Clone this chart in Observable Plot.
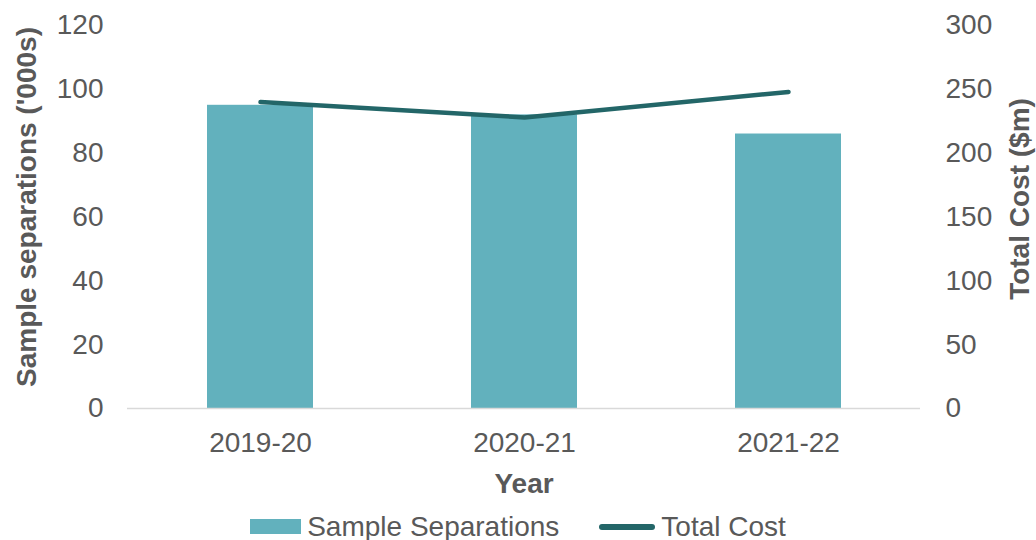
<!DOCTYPE html>
<html>
<head>
<meta charset="utf-8">
<script src="https://cdn.jsdelivr.net/npm/d3@7"></script>
<script src="https://cdn.jsdelivr.net/npm/@observablehq/plot@0.6"></script>
<style>
  html, body { margin: 0; padding: 0; background: #fff; }
  #chart { width: 1036px; font-family: "Liberation Sans", Arial, sans-serif; }
  .legend { display: flex; align-items: center; justify-content: center; height: 35px;
            font-size: 28px; color: #595959; padding-top: 4px; }
  .legend .item { display: flex; align-items: center; }
  .sw-bar { width: 51px; height: 15px; background: #62b1bd; margin-right: 6px; }
  .sw-line { width: 56px; height: 6px; background: #236668; border-radius: 3px; margin-right: 6px; }
</style>
</head>
<body>
<div id="chart"></div>
<script>
// Financial years on the x axis
const years = ["2019-20", "2020-21", "2021-22"];
// Sample separations, thousands (left axis)
const separations = [95, 92, 86];
// Total cost, $ millions (right axis)
const totalCost = [240, 228, 248];
// Axis ticks
const leftTicks = [0, 20, 40, 60, 80, 100, 120];
const rightTicks = [0, 50, 100, 150, 200, 250, 300];

const barColor = "#62b1bd";
const lineColor = "#236668";
const textColor = "#595959";

// The cost series shares the plot's y scale through a linear map 0–300 → 0–120
const costToLeft = d3.scaleLinear([0, 300], [0, 120]);

const bars = years.map((year, i) => ({year, value: separations[i]}));
const costs = years.map((year, i) => ({year, value: costToLeft(totalCost[i])}));

const plot = Plot.plot({
  width: 1036,
  height: 505,
  marginTop: 25,
  marginBottom: 97,
  marginLeft: 127,
  marginRight: 116,
  style: {fontFamily: "'Liberation Sans', Arial, sans-serif", fontSize: "28px", color: textColor},
  x: {domain: years, paddingInner: 0.6, paddingOuter: 0.3, label: null},
  y: {domain: [0, 120], label: null},
  marks: [
    Plot.barY(bars, {x: "year", y: "value", fill: barColor}),
    Plot.ruleY([0], {stroke: "#d9d9d9", strokeWidth: 1.5}),
    Plot.line(costs, {x: "year", y: "value", stroke: lineColor, strokeWidth: 4.5,
                      strokeLinecap: "round", strokeLinejoin: "round"}),
    Plot.axisX({tickSize: 0, tickPadding: 24, label: null, fill: textColor, fontSize: 28}),
    Plot.axisY({ticks: leftTicks, tickSize: 0, tickPadding: 24, label: null,
                fill: textColor, fontSize: 28}),
    Plot.axisY({anchor: "right", ticks: rightTicks.map(costToLeft), tickFormat: (d) => costToLeft.invert(d),
                tickSize: 0, tickPadding: 25, label: null, fill: textColor, fontSize: 28}),
    Plot.text(["Year"], {frameAnchor: "bottom", dy: 84, fill: textColor, fontSize: 28, fontWeight: "bold"}),
    Plot.text(["Sample separations ('000s)"], {frameAnchor: "left", textAnchor: "middle", dx: -100, dy: -10,
               rotate: -90, fill: textColor, fontSize: 28, fontWeight: "bold"}),
    Plot.text(["Total Cost ($m)"], {frameAnchor: "right", textAnchor: "middle", dx: 100, dy: -18,
               rotate: -90, fill: textColor, fontSize: 28, fontWeight: "bold"})
  ]
});

const chart = document.getElementById("chart");
chart.appendChild(plot);

const legend = document.createElement("div");
legend.className = "legend";
legend.innerHTML =
  '<div class="item"><span class="sw-bar"></span><span>Sample Separations</span></div>' +
  '<div class="item" style="margin-left:40px"><span class="sw-line"></span><span>Total Cost</span></div>';
chart.appendChild(legend);
</script>
</body>
</html>
